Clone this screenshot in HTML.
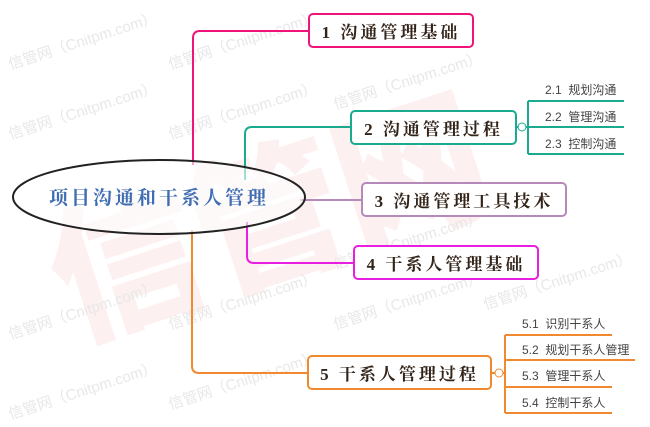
<!DOCTYPE html>
<html><head><meta charset="utf-8"><style>
html,body{margin:0;padding:0;background:#fff;}
#c{position:relative;width:650px;height:427px;overflow:hidden;background:#fff;font-family:"Liberation Serif","Noto Serif CJK SC",serif;}
.wm{position:absolute;font-family:"Liberation Sans","Noto Sans CJK SC",sans-serif;color:#e8e8e8;font-size:15px;transform:rotate(-18deg);white-space:nowrap;}
.big{position:absolute;font-family:"Noto Sans CJK SC",sans-serif;font-weight:900;color:rgba(235,60,60,0.08);font-size:150px;transform:rotate(-18deg);white-space:nowrap;left:40px;top:100px;}
.box{position:absolute;box-sizing:border-box;border:2px solid;border-radius:5px;background:#fff;color:#33241a;font-weight:bold;font-size:17px;letter-spacing:3px;display:flex;align-items:center;justify-content:center;}
.sub{position:absolute;font-family:"Liberation Sans","Noto Sans CJK SC",sans-serif;font-size:12px;color:#444;white-space:nowrap;}
</style></head><body><div id="c">
<div class="big">信管网</div>
<div class="wm" style="left:5px;top:30px">信管网（Cnitpm.com）</div>
<div class="wm" style="left:165px;top:30px">信管网（Cnitpm.com）</div>
<div class="wm" style="left:5px;top:100px">信管网（Cnitpm.com）</div>
<div class="wm" style="left:165px;top:100px">信管网（Cnitpm.com）</div>
<div class="wm" style="left:330px;top:70px">信管网（Cnitpm.com）</div>
<div class="wm" style="left:5px;top:300px">信管网（Cnitpm.com）</div>
<div class="wm" style="left:165px;top:290px">信管网（Cnitpm.com）</div>
<div class="wm" style="left:330px;top:290px">信管网（Cnitpm.com）</div>
<div class="wm" style="left:480px;top:270px">信管网（Cnitpm.com）</div>
<div class="wm" style="left:5px;top:380px">信管网（Cnitpm.com）</div>
<div class="wm" style="left:165px;top:370px">信管网（Cnitpm.com）</div>
<div class="wm" style="left:330px;top:230px">信管网（Cnitpm.com）</div>
<svg width="650" height="427" style="position:absolute;left:0;top:0" fill="none">
<path d="M193 165 V38 Q193 31 200 31 H308" stroke="#f0147a" stroke-width="2"/>
<path d="M245 180 V134 Q245 127 252 127 H350" stroke="#1aab8f" stroke-width="2"/>
<path d="M300 200 H361" stroke="#b58ab8" stroke-width="2"/>
<path d="M247 222 V256 Q247 263 254 263 H353" stroke="#e81ee0" stroke-width="2"/>
<path d="M192 230 V366 Q192 373 199 373 H307" stroke="#f08a30" stroke-width="2"/>
<path d="M517 127 H624 M528 101 V154 M528 101 H624 M528 154 H624" stroke="#1aab8f" stroke-width="2"/>
<circle cx="522" cy="127" r="4" fill="#fff" stroke="#1aab8f" stroke-width="1"/>
<path d="M492 373 H505 M505 335 V413 M505 335 H612 M505 360 H635 M505 387 H612 M505 413 H612" stroke="#f08a30" stroke-width="2"/>
<circle cx="499" cy="373" r="4" fill="#fff" stroke="#f08a30" stroke-width="1"/>
<ellipse cx="159" cy="197" rx="146" ry="37" fill="rgba(255,255,255,0.6)" stroke="#222" stroke-width="2"/>
<text x="159" y="204" text-anchor="middle" font-family="Noto Serif CJK SC,serif" font-weight="bold" font-size="19" letter-spacing="3" fill="#3f6db3">项目沟通和干系人管理</text>
</svg>
<div class="box" style="left:308px;top:13px;width:166px;height:35px;border-color:#f0147a">1 沟通管理基础</div>
<div class="box" style="left:350px;top:110px;width:167px;height:35px;border-color:#1aab8f">2 沟通管理过程</div>
<div class="box" style="left:361px;top:182px;width:206px;height:35px;border-color:#b58ab8">3 沟通管理工具技术</div>
<div class="box" style="left:353px;top:245px;width:186px;height:35px;border-color:#e81ee0">4 干系人管理基础</div>
<div class="box" style="left:307px;top:355px;width:185px;height:35px;border-color:#f08a30">5 干系人管理过程</div>
<div class="sub" style="left:545px;top:81px">2.1&nbsp; 规划沟通</div>
<div class="sub" style="left:545px;top:108px">2.2&nbsp; 管理沟通</div>
<div class="sub" style="left:545px;top:135px">2.3&nbsp; 控制沟通</div>
<div class="sub" style="left:522px;top:315px">5.1&nbsp; 识别干系人</div>
<div class="sub" style="left:522px;top:341px">5.2&nbsp; 规划干系人管理</div>
<div class="sub" style="left:522px;top:367px">5.3&nbsp; 管理干系人</div>
<div class="sub" style="left:522px;top:394px">5.4&nbsp; 控制干系人</div>
</div></body></html>
